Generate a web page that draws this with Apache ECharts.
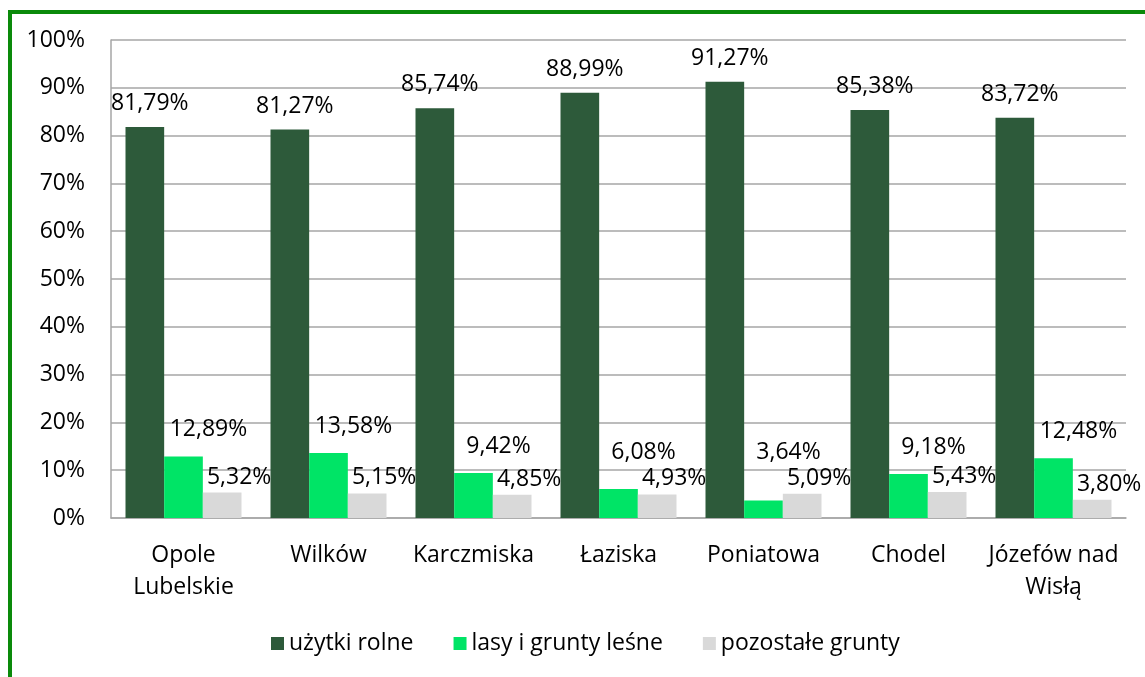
<!DOCTYPE html>
<html>
<head>
<meta charset="utf-8">
<script src="https://cdn.jsdelivr.net/npm/echarts@6/dist/echarts.min.js"></script>
<style>
    html, body { margin: 0; padding: 0; background: #fff; }
    #frame {
        position: absolute; left: 8px; top: 10px; width: 1137px; height: 667px;
        border-top: 4px solid #0a8a0a; border-left: 4px solid #0a8a0a;
    }
    #main { position: absolute; left: 0; top: 0; width: 1145px; height: 677px; }
</style>
</head>
<body>
<div id="frame"></div>
<div id="main"></div>
<script>
var categories = ['Opole\nLubelskie', 'Wilków', 'Karczmiska', 'Łaziska', 'Poniatowa', 'Chodel', 'Józefów nad\nWisłą'];
var seriesNames = ['użytki rolne', 'lasy i grunty leśne', 'pozostałe grunty'];
var uzytkiRolne = [81.79, 81.27, 85.74, 88.99, 91.27, 85.38, 83.72];
var lasy = [12.89, 13.58, 9.42, 6.08, 3.64, 9.18, 12.48];
var pozostale = [5.32, 5.15, 4.85, 4.93, 5.09, 5.43, 3.80];
var yTicks = [0, 10, 20, 30, 40, 50, 60, 70, 80, 90, 100];

var font = 'Open Sans';
var fontSize = 23;
var colors = ['#2d5a3a', '#00e466', '#d9d9d9'];

function fmt(v) {
    return v.toFixed(2).replace('.', ',') + '%';
}

// przesunięcie etykiet jak w oryginale (Excel przesuwał je w prawo)
function labelOffset(i, v) {
    if (i === 0) return [5, -7];
    if (i === 1) return [25, -Math.max(10, (10 - v) * 5)];
    return [17, 1];
}

var chart = echarts.init(document.getElementById('main'));
var data = [uzytkiRolne, lasy, pozostale];

var series = data.map(function (vals, i) {
    return {
        name: seriesNames[i],
        type: 'bar',
        data: vals.map(function (v) {
            return { value: v, label: { offset: labelOffset(i, v) } };
        }),
        barGap: '0%',
        barCategoryGap: '20%',
        itemStyle: { color: colors[i] },
        label: {
            show: true,
            position: 'top',
            color: '#000',
            fontFamily: font,
            fontSize: fontSize,
            formatter: function (p) { return fmt(p.value); }
        }
    };
});

chart.setOption({
    animation: false,
    color: colors,
    grid: { left: 111, right: 19, top: 40, bottom: 159 },
    legend: {
        data: seriesNames,
        left: 266,
        top: 627,
        itemWidth: 13,
        itemHeight: 13,
        itemGap: 40,
        icon: 'rect',
        textStyle: { color: '#000', fontFamily: font, fontSize: fontSize }
    },
    xAxis: {
        type: 'category',
        data: categories,
        axisLine: { lineStyle: { color: '#a6a6a6', width: 1.5 } },
        axisTick: { show: false },
        axisLabel: { interval: 0, color: '#000', fontFamily: font, fontSize: fontSize, lineHeight: 32, margin: 21 }
    },
    yAxis: {
        type: 'value',
        min: yTicks[0],
        max: yTicks[yTicks.length - 1],
        interval: 10,
        axisLine: { show: true, lineStyle: { color: '#a6a6a6', width: 1.5 } },
        axisTick: { show: false },
        splitLine: { lineStyle: { color: '#a6a6a6', width: 1.5 } },
        axisLabel: { color: '#000', fontFamily: font, fontSize: fontSize, margin: 26, formatter: '{value}%' }
    },
    series: series
});
</script>
</body>
</html>
